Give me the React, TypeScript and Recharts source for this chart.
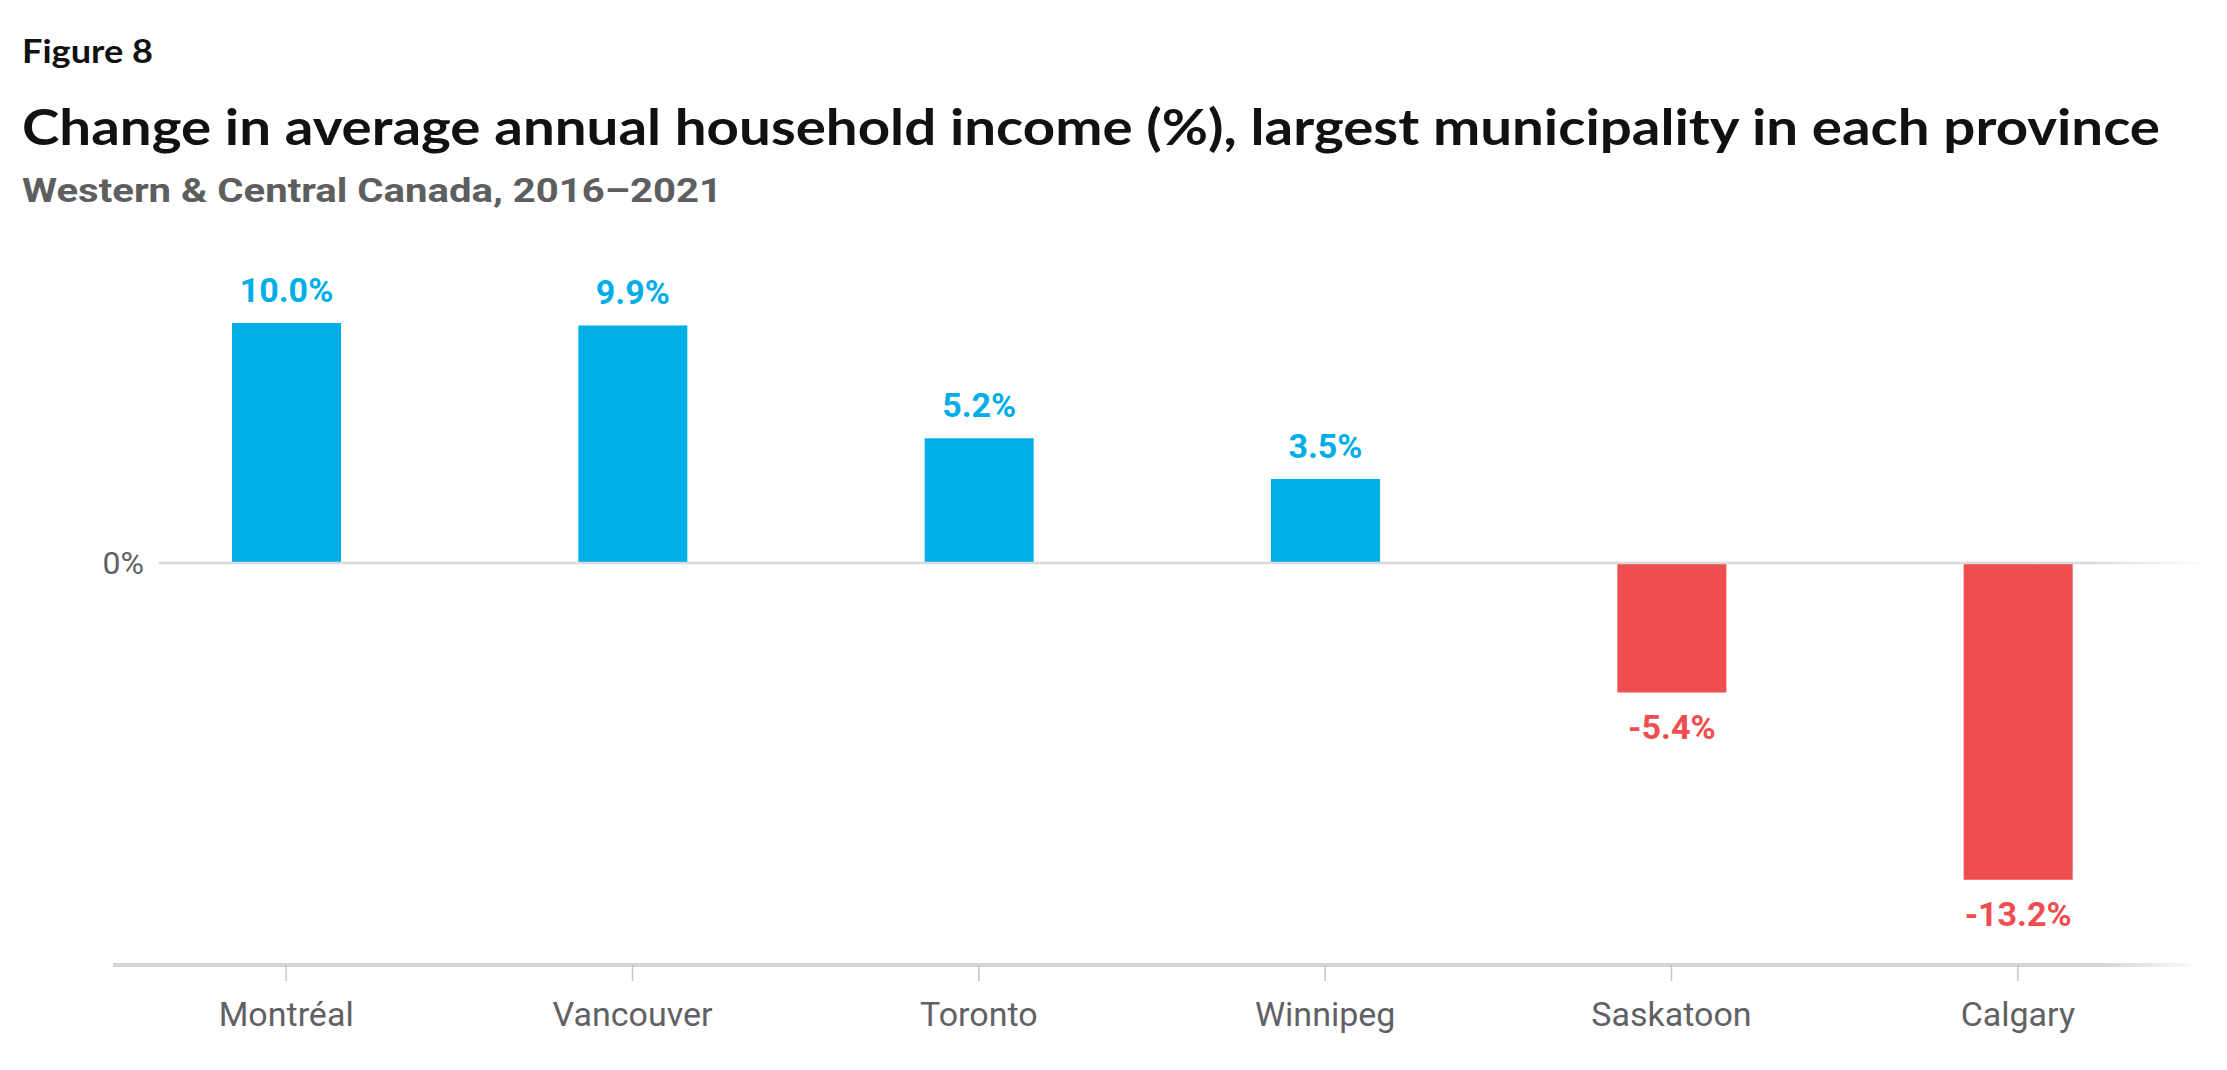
import { Bar, BarChart, Cell, LabelList, ReferenceLine, XAxis, YAxis } from "recharts";

const cities = ["Montréal", "Vancouver", "Toronto", "Winnipeg", "Saskatoon", "Calgary"];
const changes = [10.0, 9.9, 5.2, 3.5, -5.4, -13.2];
const yTicks = [0];

const BLUE = "#00AEE7";
const RED = "#F04D4F";
const GRAY_TEXT = "#5f6165";

const rows = cities.map((city, i) => ({ city, change: changes[i] }));

function ValueLabel(props: any) {
  const x = Number(props.x);
  const y = Number(props.y);
  const width = Number(props.width);
  const height = Number(props.height);
  const value = Number(props.value);
  const top = Math.min(y, y + height);
  const bottom = Math.max(y, y + height);
  const neg = value < 0;
  return (
    <text
      x={x + width / 2}
      y={neg ? bottom + 46 : top - 21}
      textAnchor="middle"
      fill={neg ? RED : BLUE}
      fontFamily="Roboto"
      fontWeight={700}
      fontSize={34}
    >
      {value.toFixed(1)}%
    </text>
  );
}

function ZeroLine(p: any) {
  // the zero line starts a little right of the plot edge and fades out
  return (
    <line
      x1={p.x1 + 46}
      y1={p.y1}
      x2={p.x2 + 16}
      y2={p.y2}
      stroke="url(#zeroFade)"
      strokeWidth={2.5}
    />
  );
}

export default function App() {
  return (
    <div style={{ position: "absolute", left: 0, top: 0, width: 2227, height: 1070, background: "#fff" }}>
      <svg width={2227} height={230} style={{ position: "absolute", left: 0, top: 0 }}>
        <text x={22} y={63} fontFamily="Lato" fontWeight={700} fontSize={32} fill="#111" textLength={131} lengthAdjust="spacingAndGlyphs">
          Figure 8
        </text>
        <text x={22} y={145} fontFamily="Lato" fontWeight={700} fontSize={50} fill="#111" textLength={2138} lengthAdjust="spacingAndGlyphs">
          Change in average annual household income (%), largest municipality in each province
        </text>
        <text x={22} y={202} fontFamily="Roboto" fontWeight={700} fontSize={34} fill="#5d5e60" textLength={700} lengthAdjust="spacingAndGlyphs">
          Western &amp; Central Canada, 2016–2021
        </text>
      </svg>
      <div style={{ position: "absolute", left: 0, top: 0 }}>
        <BarChart width={2227} height={1070} data={rows} margin={{ top: 275, right: 36, bottom: 0, left: 0 }}>
          <defs>
            <linearGradient id="axisFade" gradientUnits="userSpaceOnUse" x1={113} y1={0} x2={2205} y2={0}>
              <stop offset="0" stopColor="#d3d4d8" />
              <stop offset="0.95" stopColor="#d3d4d8" />
              <stop offset="1" stopColor="#ffffff" />
            </linearGradient>
            <linearGradient id="zeroFade" gradientUnits="userSpaceOnUse" x1={159} y1={0} x2={2210} y2={0}>
              <stop offset="0" stopColor="#d8d9dc" />
              <stop offset="0.94" stopColor="#d8d9dc" />
              <stop offset="1" stopColor="#ffffff" />
            </linearGradient>
          </defs>
          <XAxis
            dataKey="city"
            height={105}
            interval={0}
            axisLine={{ stroke: "url(#axisFade)", strokeWidth: 4 }}
            tickLine={{ stroke: "#c4c5c8", strokeWidth: 1.5 }}
            tickSize={16}
            tickMargin={21}
            tick={{ fill: GRAY_TEXT, fontSize: 34, fontFamily: "Roboto" }}
          />
          <YAxis
            width={113}
            domain={[-16.75, 12]}
            ticks={yTicks}
            axisLine={false}
            tickLine={false}
            tickSize={0}
            tickMargin={0}
            tick={(p: any) => (
              <text x={p.x + 31} y={p.y} dy="0.35em" textAnchor="end" fill={GRAY_TEXT} fontSize={32} fontFamily="Roboto">
                {p.payload.value}%
              </text>
            )}
          />
          <ReferenceLine y={0} shape={ZeroLine} />
          <Bar dataKey="change" barSize={109} isAnimationActive={false}>
            {rows.map((r) => (
              <Cell key={r.city} fill={r.change < 0 ? RED : BLUE} />
            ))}
            <LabelList dataKey="change" content={ValueLabel} />
          </Bar>
        </BarChart>
      </div>
    </div>
  );
}
